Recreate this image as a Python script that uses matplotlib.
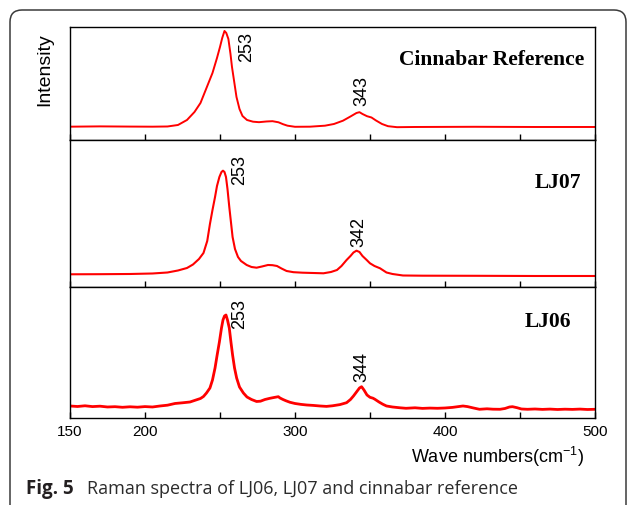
import matplotlib
matplotlib.use("Agg")
import matplotlib.pyplot as plt
from matplotlib.patches import FancyBboxPatch

# Raman spectra (wave number, intensity in a.u.)
ref_w = [150, 170, 190, 205, 215, 222, 228, 233, 237, 241, 245, 248, 250, 251.5, 253,
         254.2, 255.6, 257, 258, 259.5, 261, 263, 265, 268, 272, 276, 281, 285, 289,
         292, 295, 300, 310, 320, 326, 332, 337, 341, 343, 345, 348, 351, 354, 358,
         362, 368, 380, 420, 460, 500]
ref_i = [13.3, 13.6, 13.4, 13.3, 13.5, 15, 20, 28, 37, 52, 67, 82, 93, 102, 109,
         107, 101, 86, 73, 58, 43, 31, 24, 20, 18.3, 17.8, 18.5, 18.8, 17.7,
         15.8, 14.3, 13.2, 13.3, 14.3, 16, 19.3, 23.5, 27, 27.8, 26, 23.8, 22.5, 19.5, 16,
         13.8, 12.8, 13, 13.2, 13, 13]

lj07_w = [150, 170, 190, 205, 215, 222, 228, 232, 236, 239, 241.5, 243.3, 245, 246.7,
          248, 249.6, 251, 252, 253, 254, 255, 256.2, 257.3, 258.4, 260, 262, 264,
          267.8, 271, 274.4, 278, 282, 285, 288, 291, 294.4, 299, 305, 312, 319, 324,
          328, 331, 334.4, 337, 339, 341, 343, 345, 347.8, 350, 353, 356.7, 361, 365,
          372, 385, 420, 460, 500]
lj07_i = [12.7, 12.8, 13, 13.5, 14.5, 16.5, 19, 22.5, 28, 34, 46, 63, 77, 90,
          101, 110, 115, 116.3, 115, 110, 98, 80, 65, 50, 38, 30, 26,
          22, 20, 19.3, 20.5, 22, 21.8, 21, 18.5, 16, 14.8, 14.3, 14, 13.7, 15,
          17, 21, 27, 31, 34.5, 36.3, 35, 31, 27, 23.7, 21, 18.7, 14.5, 13,
          11.5, 11.3, 11.2, 11, 11]

lj06_w = [150, 155, 160, 165, 170, 175, 180, 185, 190, 195, 200, 205, 210, 215, 220,
          225, 230, 234, 237, 239, 241, 243.3, 245, 246.7, 248, 249.6, 251, 252, 253,
          254, 255, 256.2, 257.3, 258.4, 259.7, 261.1, 263, 265.6, 268, 271, 274.4,
          277, 280, 283.3, 286, 288.9, 290, 292, 294, 296.7, 300, 304, 307.8, 312,
          316.7, 321, 325, 330, 334.4, 337, 339, 341, 343, 344.4, 346, 348, 350, 352,
          353.3, 356, 358.5, 361, 365, 370, 374, 380, 385, 390, 395, 400, 405, 409,
          412, 415, 419, 423, 428, 432, 436.7, 440, 443, 445, 448, 451, 455, 460,
          465, 470, 475, 480, 485, 490, 495, 500]
lj06_i = [12, 11.5, 12.2, 11.4, 11.8, 11, 11.3, 10.7, 11.2, 10.8, 11.4, 11, 12, 12.8, 14.5,
          15.2, 16, 18, 19.5, 21.5, 25, 30, 38, 50, 62, 76, 90, 98, 102,
          103, 98, 90, 76, 63, 50, 40, 31, 25, 21, 18.5, 16.5,
          16.8, 18.5, 19.7, 20.5, 21.3, 20, 18.5, 17.2, 15.7, 14.5, 13.6, 13, 12.6,
          12, 11.6, 12.2, 13.4, 15.3, 18.5, 22, 26, 30, 31.3, 28, 23, 20.7, 19.8,
          18.7, 16, 13.8, 12, 11, 10.2, 9.7, 10.2, 9.6, 9.9, 9.7, 10, 10.6, 11.4,
          12, 11.4, 10, 8.7, 9.2, 8.8, 8.7, 9.5, 11, 11.3, 10.3, 9, 8.7, 9,
          8.6, 8.9, 8.5, 8.8, 8.6, 8.9, 8.5, 8.7]

names = ["Cinnabar Reference", "LJ07", "LJ06"]
peaks = [["253", "343"], ["253", "342"], ["253", "344"]]

plt.rcParams['font.family'] = ['Liberation Sans', 'DejaVu Sans']
plt.rcParams['mathtext.default'] = 'regular'

fig = plt.figure(figsize=(6.3, 5.05), dpi=100)

# rounded frame round the whole figure (display pixels)
frame = FancyBboxPatch((10, -30), 616, 525, boxstyle="round,pad=0,rounding_size=12",
                       transform=None, fill=False, edgecolor='#3a3a3a', linewidth=1.1)
fig.patches.append(frame)

# panel rectangles: [left, bottom, width, height]
boxes = [[0.1111, 0.7228, 0.8333, 0.2238],
         [0.1111, 0.4317, 0.8333, 0.2911],
         [0.1111, 0.1723, 0.8333, 0.2594]]
ylims = [113, 147, 131]
series = [(ref_w, ref_i, 1.4), (lj07_w, lj07_i, 1.5), (lj06_w, lj06_i, 2.0)]
# label positions (data coords)
name_pos = [(493, 80), (490.5, 104), (484, 96)]
peak_pos = [[(267.8, 108, 'top'), (344.9, 33.5, 'bottom')],
            [(263.3, 132, 'top'), (342.7, 40.3, 'bottom')],
            [(263.3, 118.7, 'top'), (344.9, 36.3, 'bottom')]]

for k in range(3):
    ax = fig.add_axes(boxes[k])
    w, inten, lw = series[k]
    ax.plot(w, inten, color='#ff0000', linewidth=lw)
    ax.set_xlim(150, 500)
    ax.set_ylim(0, ylims[k])
    ax.set_yticks([])
    ax.set_xticks([150, 200, 250, 300, 350, 400, 450, 500])
    ax.tick_params(axis='x', direction='in', length=4, width=1, pad=5, labelsize=11)
    if k == 2:
        ax.set_xticklabels(['150', '200', '', '300', '', '400', '', '500'])
    else:
        ax.set_xticklabels([])
    for s in ax.spines.values():
        s.set_linewidth(1.0)
    ax.text(name_pos[k][0], name_pos[k][1], names[k], ha='right', va='center',
            family='Liberation Serif', fontweight='bold', fontsize=15.5)
    for lab, (px, py, va) in zip(peaks[k], peak_pos[k]):
        ax.text(px, py, lab, rotation=90, ha='center', va=va, fontsize=13)

fig.text(44.7 / 630, 1 - 70 / 505, 'Intensity', rotation=90, ha='center', va='center',
         fontsize=14)
fig.text(497 / 630, 1 - 457 / 505, 'Wave numbers(cm$^{-1}$)', ha='center', va='center',
         fontsize=13)

fig.text(26 / 630, 1 - 494 / 505, 'Fig. 5', ha='left', va='baseline', fontsize=13.5,
         family='Open Sans', fontweight='bold', color='#231f20')
fig.text(87 / 630, 1 - 494 / 505, 'Raman spectra of LJ06, LJ07 and cinnabar reference',
         ha='left', va='baseline', fontsize=13, family='Open Sans', color='#2b2b2b')

fig.savefig('out.png', dpi=100)
